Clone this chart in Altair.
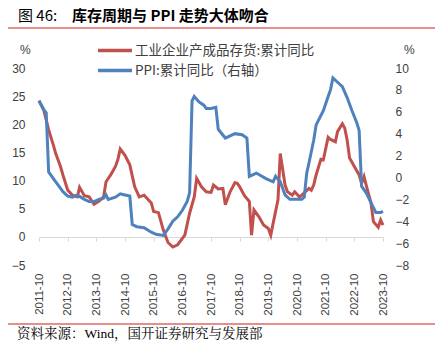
import altair as alt
import pandas as pd

# ---------------- data ----------------
red_months = ["2011-10","2011-12","2012-02","2012-04","2012-05","2012-07","2012-08","2012-10","2012-12",
              "2013-02","2013-03","2013-05","2013-07","2013-09","2013-11","2014-01","2014-02","2014-04",
              "2014-06","2014-07","2014-08","2014-10","2014-12","2015-02","2015-04","2015-06","2015-09",
              "2015-10","2015-12","2016-02","2016-04","2016-06","2016-08","2016-11","2017-01","2017-03",
              "2017-04","2017-06","2017-08","2017-10","2017-11","2018-01","2018-03","2018-04","2018-06",
              "2018-08","2018-09","2018-10","2018-12","2019-02","2019-03","2019-04","2019-06","2019-08",
              "2019-10","2019-11","2019-12","2020-02","2020-03","2020-05","2020-06","2020-08","2020-09",
              "2020-11","2020-12","2021-03","2021-04","2021-05","2021-06","2021-08","2021-09","2021-11",
              "2021-12","2022-02","2022-03","2022-05","2022-06","2022-07","2022-08","2022-10","2022-12",
              "2023-01","2023-02","2023-03","2023-05","2023-06","2023-08","2023-09","2023-10"]
red_values = [24.2,22.5,19.0,16.3,14.8,12.5,11.0,8.3,7.4,
              7.1,8.8,7.3,7.1,5.8,6.3,7.1,9.8,11.0,
              12.5,13.7,15.6,14.5,12.8,8.9,7.1,7.4,6.0,
              4.5,4.3,1.2,-1.0,-1.8,-1.4,0.3,4.2,7.1,
              10.4,8.9,8.0,7.9,9.2,8.5,8.6,5.7,8.0,
              9.6,9.5,8.9,7.3,6.3,0.3,4.8,3.6,2.1,
              1.5,0.3,2.4,6.6,14.8,9.2,8.0,7.4,8.0,
              7.1,7.4,8.6,8.3,9.2,11.0,13.8,13.7,17.7,
              17.3,16.9,18.7,20.1,19.3,17.2,14.0,12.5,11.0,
              9.5,10.7,9.2,6.0,2.7,1.7,3.0,2.1]

blue_months = ["2011-10","2011-12","2012-01","2012-02","2012-04","2012-06","2012-08","2012-10","2012-12",
               "2013-02","2013-05","2013-07","2013-09","2013-11","2014-01","2014-02","2014-03","2014-06",
               "2014-08","2014-10","2014-12","2015-01","2015-03","2015-06","2015-09","2015-11","2016-02",
               "2016-04","2016-06","2016-08","2016-10","2016-12","2017-01","2017-02","2017-03","2017-05",
               "2017-07","2017-08","2017-10","2017-12","2018-01","2018-04","2018-08","2018-11","2019-01",
               "2019-02","2019-05","2019-09","2019-12","2020-01","2020-03","2020-05","2020-07","2020-12",
               "2021-01","2021-02","2021-03","2021-05","2021-06","2021-09","2021-11","2021-12","2022-01",
               "2022-03","2022-05","2022-07","2022-09","2022-11","2022-12","2023-01","2023-03","2023-05",
               "2023-07","2023-09","2023-10"]
blue_values = [7.0,6.2,5.9,0.5,-0.1,-0.7,-1.3,-1.7,-1.8,
               -1.6,-2.0,-2.2,-2.2,-2.0,-1.9,-1.6,-2.0,-1.8,
               -1.5,-1.6,-1.7,-4.3,-4.5,-4.6,-5.0,-5.2,-5.3,
               -4.7,-4.0,-3.6,-3.0,-2.2,-1.4,7.0,7.4,6.9,
               6.6,6.3,6.3,6.4,4.4,3.6,4.0,3.9,3.6,
               0.1,0.4,-0.1,-0.4,0.1,-0.4,-1.6,-2.0,-2.0,
               -1.8,0.4,1.3,3.4,4.8,6.1,7.4,8.0,9.1,
               8.7,8.3,7.3,6.1,5.0,4.3,-0.8,-1.4,-2.3,
               -3.2,-3.2,-3.1]

tick_years = list(range(2011, 2024))
left_ticks = [-5, 0, 5, 10, 15, 20, 25, 30]
right_ticks = [-8, -6, -4, -2, 0, 2, 4, 6, 8, 10]

title_prefix = "图 46:"
title_main = "库存周期与 PPI 走势大体吻合"
red_name = "工业企业产成品存货:累计同比"
blue_name = "PPI:累计同比（右轴）"
source_text = "资料来源：Wind，国开证券研究与发展部"

assert len(red_months) == len(red_values)
assert len(blue_months) == len(blue_values)

red_df = pd.DataFrame({"date": [m + "-01" for m in red_months], "v": red_values})
blue_df = pd.DataFrame({"date": [m + "-01" for m in blue_months], "v": blue_values})
one = pd.DataFrame({"k": [0]})

RED = "#C0504D"
BLUE = "#4F81BD"
TXT = "#404040"
NUM_FONT = "Liberation Sans"
CJK = "Noto Sans CJK SC"

W, H = 344, 197

x_axis = alt.Axis(
    values=[alt.DateTime(year=y, month=10, date=1, utc=True) for y in tick_years],
    format="%Y-%m", labelAngle=-90, labelAlign="right", labelBaseline="middle",
    labelFont=NUM_FONT, labelFontSize=11.5, labelColor=TXT, labelPadding=32,
    tickSize=4, tickColor="#D9D9D9", domainColor="#D9D9D9", grid=False,
    offset=-28, title=None, labelOverlap=False, labelFlush=False)

x_enc = alt.X("date:T", axis=x_axis,
              scale=alt.Scale(type="utc",
                              domain=[alt.DateTime(year=2011, month=10, date=1, utc=True),
                                      alt.DateTime(year=2023, month=10, date=1, utc=True)]))

red_line = alt.Chart(red_df).mark_line(color=RED, strokeWidth=3, clip=False).encode(
    x=x_enc,
    y=alt.Y("v:Q", scale=alt.Scale(domain=[-5, 30], nice=False, zero=False),
            axis=alt.Axis(orient="left", values=left_ticks, domain=False, ticks=False, grid=False,
                          labelFont=NUM_FONT, labelFontSize=12, labelColor=TXT, labelPadding=14,
                          title=None)))

blue_line = alt.Chart(blue_df).mark_line(color=BLUE, strokeWidth=3, clip=False).encode(
    x=x_enc,
    y=alt.Y("v:Q", scale=alt.Scale(domain=[-8, 10], nice=False, zero=False),
            axis=alt.Axis(orient="right", values=right_ticks, domain=False, ticks=False, grid=False,
                          labelFont=NUM_FONT, labelFontSize=12, labelColor=TXT, labelPadding=12,
                          labelAlign="left", title=None)))


def txt(text, x, y, size, font, color=TXT, weight="normal", align="left"):
    return alt.Chart(one).mark_text(text=text, fontSize=size, font=font, color=color,
                                    fontWeight=weight, align=align, baseline="middle").encode(
        x=alt.value(x), y=alt.value(y))


def hline(x1, x2, y, color, width):
    return alt.Chart(one).mark_rule(color=color, strokeWidth=width).encode(
        x=alt.value(x1), x2=alt.value(x2), y=alt.value(y))


decor = [
    txt(title_prefix, -21, -52, 15, CJK, color="#000000"),
    txt(title_main, 33, -52, 15, CJK, color="#000000", weight="bold"),
    hline(-31, 396, -40, "#E06666", 1.5),
    txt("%", -19, -18, 12, NUM_FONT),
    txt("%", 365, -18, 12, NUM_FONT),
    hline(59, 93, -17.5, RED, 3.5),
    txt(red_name, 96, -17.5, 13.5, CJK),
    hline(59, 93, 2.5, BLUE, 3.5),
    txt(blue_name, 96, 2.5, 13.5, CJK),
    hline(-31, 396, 256, "#E06666", 1.5),
    txt(source_text, -22, 266, 13.5, "Liberation Serif, Noto Serif CJK SC, Noto Sans CJK SC", color="#000000"),
]

chart = alt.layer(red_line, blue_line, *decor).resolve_scale(y="independent").properties(
    width=W, height=H,
    autosize=alt.AutoSizeParams(type="none"),
    padding={"left": 39, "top": 68, "right": 52, "bottom": 88},
    background="white",
).configure_view(stroke=None)

chart.save("out.html", embed_options={"renderer": "svg", "actions": False})
